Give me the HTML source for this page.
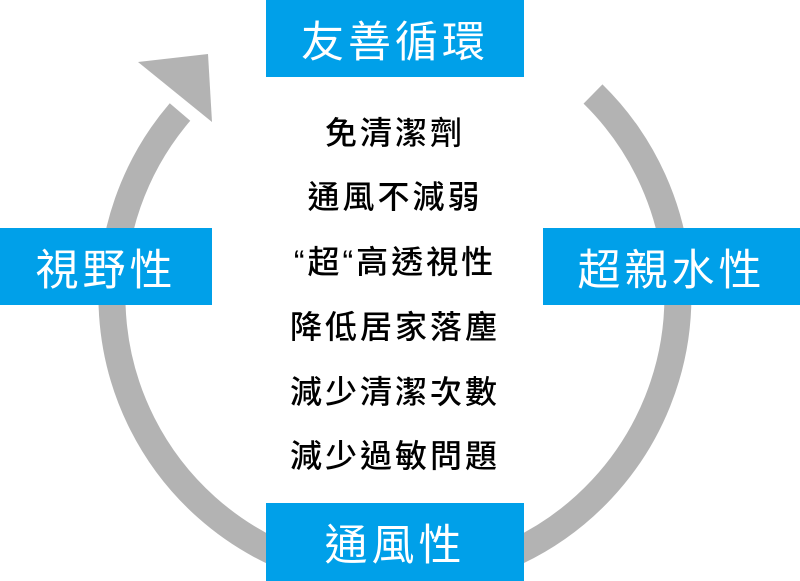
<!DOCTYPE html>
<html><head><meta charset="utf-8"><style>
body{margin:0;width:800px;height:581px;overflow:hidden;background:#fff;font-family:"Liberation Sans","Noto Sans CJK TC",sans-serif}
.b{position:absolute;background:#00a0e9;color:#fff;font-size:43px;display:flex;align-items:center;justify-content:center;letter-spacing:4px}
.t{position:absolute;left:0;width:790px;text-align:center;font-size:32px;font-weight:500;color:#000;letter-spacing:3px;line-height:40px}
</style></head><body>
<svg width="800" height="581" style="position:absolute;left:0;top:0">
<path d="M 593 94 A 283 283 0 1 1 180 112" fill="none" stroke="#b3b3b3" stroke-width="27"/>
<polygon points="138,62 208,54 212,122" fill="#b3b3b3"/>
</svg>
<div class="b" style="left:266px;top:0;width:258px;height:77px">友善循環</div>
<div class="b" style="left:0;top:228px;width:212px;height:77px">視野性</div>
<div class="b" style="left:543px;top:228px;width:257px;height:77px">超親水性</div>
<div class="b" style="left:266px;top:503px;width:258px;height:78px">通風性</div>
<div class="t" style="top:113px">免清潔劑</div>
<div class="t" style="top:177px">通風不減弱</div>
<div class="t" style="top:242px">“超“高透視性</div>
<div class="t" style="top:307px">降低居家落塵</div>
<div class="t" style="top:372px">減少清潔次數</div>
<div class="t" style="top:436px">減少過敏問題</div>
</body></html>
